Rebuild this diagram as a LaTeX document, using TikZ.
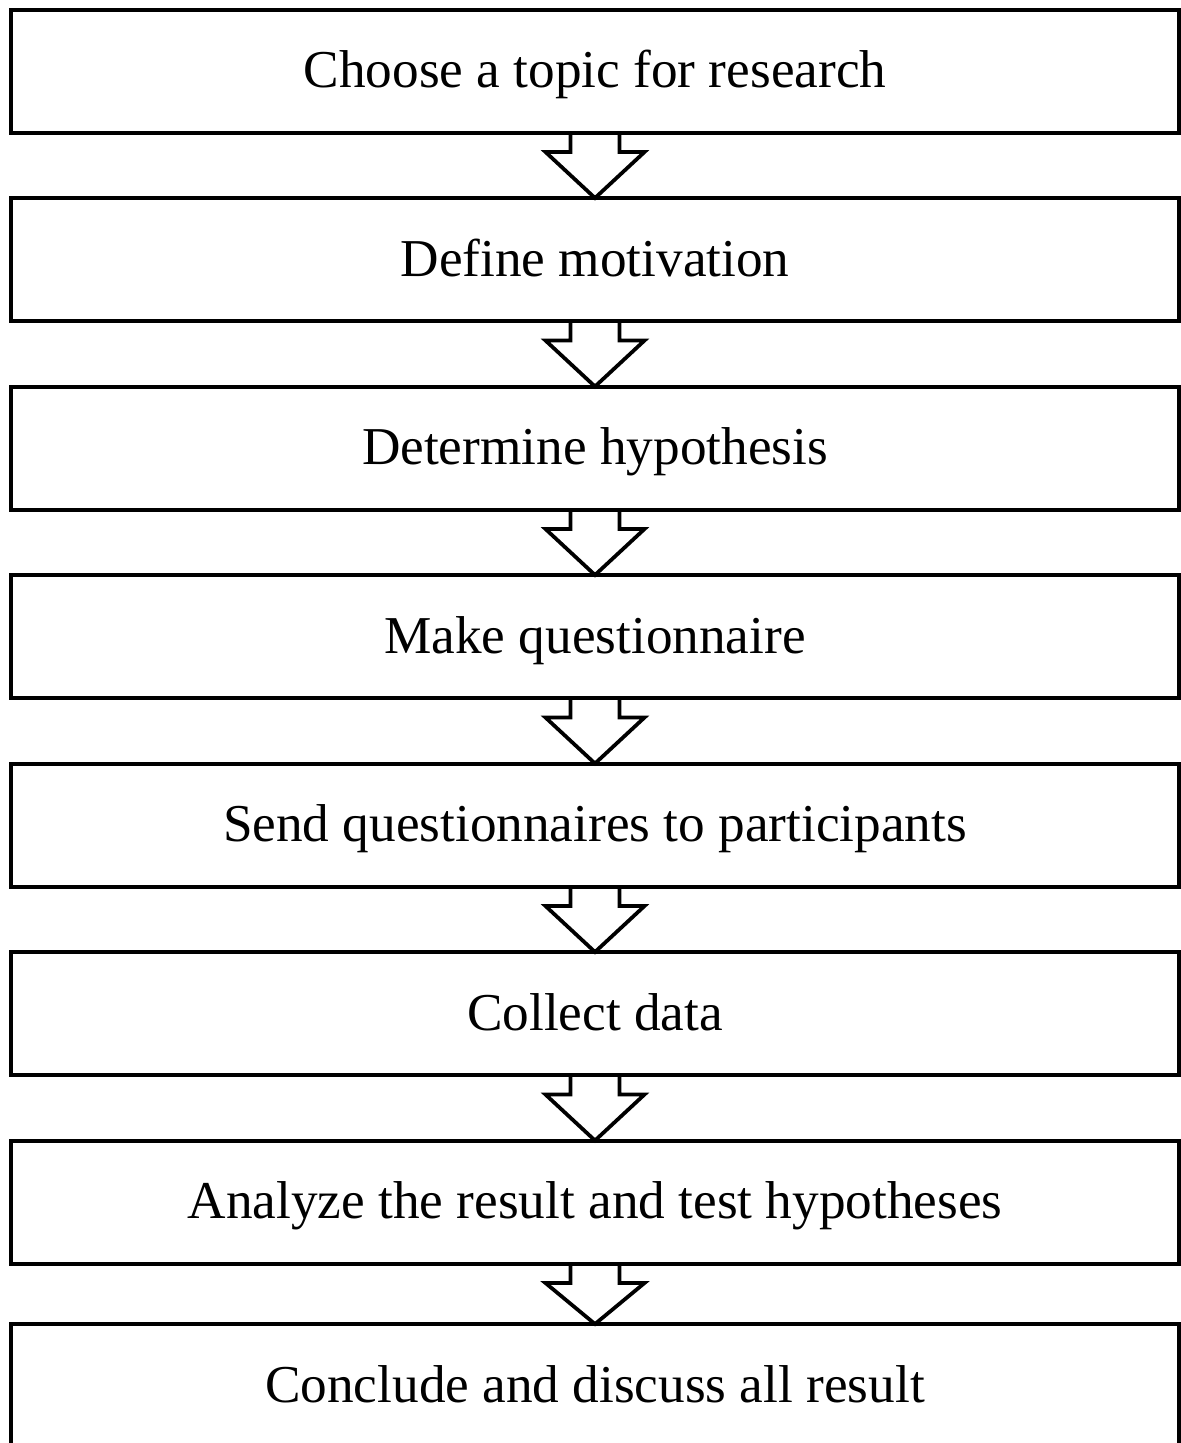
\documentclass[tikz,border=0pt]{standalone}
\usepackage{fontspec}
\setmainfont{Liberation Serif}
\usetikzlibrary{calc,positioning}

% hollow block arrow from the bottom of one box to the top of the next
\newcommand{\flowarrow}[2]{
    \draw [flow] ($(#1.south)+(-0.49,0)$) -- ++(0,-0.39) -- ++(-0.5,0) -- (#2.north)
        -- ($(#1.south)+(0.99,-0.39)$) -- ++(-0.5,0) -- ++(0,0.39);
}

\begin{document}
\begin{tikzpicture}[
            stepbox/.style={rectangle, draw=black, line width=0.08cm, minimum width=23.34cm,
            minimum height=2.46cm, inner sep=0pt, outer sep=0pt, anchor=north,
            text centered, text=black, text height=25pt, text depth=6pt,
            font=\fontsize{30.3}{36}\selectfont},
            flow/.style={draw=black, line width=0.075cm, line join=miter}]
            \useasboundingbox (0,0) rectangle (23.62,-28.86);
            \clip (0,0) rectangle (23.62,-28.86);

            \node (topic) [stepbox] at (11.9,-0.19) {Choose a topic for research};
            \node (motivation) [stepbox, below=1.31cm of topic] {Define motivation};
            \node (hypothesis) [stepbox, below=1.31cm of motivation] {Determine hypothesis};
            \node (questionnaire) [stepbox, below=1.31cm of hypothesis] {Make questionnaire};
            \node (send) [stepbox, below=1.31cm of questionnaire] {Send questionnaires to participants};
            \node (collect) [stepbox, below=1.31cm of send] {Collect data};
            \node (analyze) [stepbox, below=1.31cm of collect] {Analyze the result and test hypotheses};
            \node (conclude) [stepbox, below=1.21cm of analyze] {Conclude and discuss all result};

            \foreach \a/\b in {topic/motivation, motivation/hypothesis, hypothesis/questionnaire,
                questionnaire/send, send/collect, collect/analyze, analyze/conclude}
                \flowarrow{\a}{\b};
        \end{tikzpicture}
\end{document}
